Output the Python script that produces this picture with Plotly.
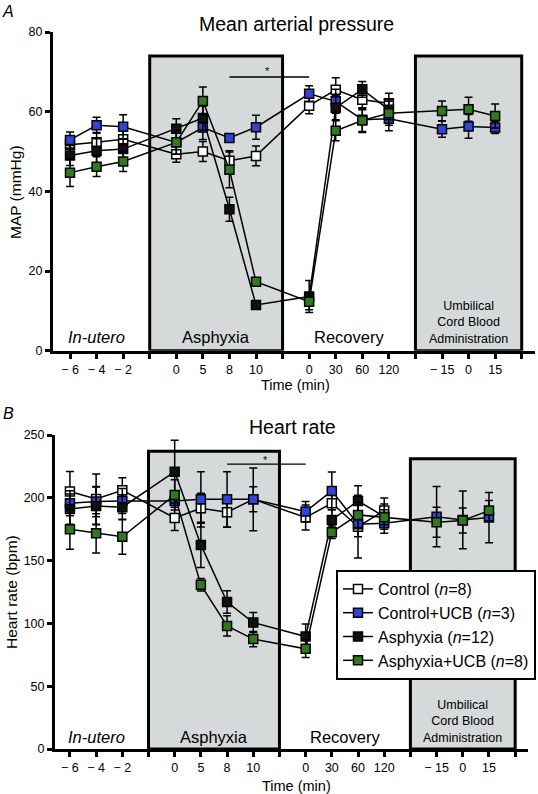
import plotly.graph_objects as go

# ---------------- data ----------------
in_utero_t = ["\u2212 6", "\u2212 4", "\u2212 2"]
asphyxia_t = ["0", "5", "8", "10"]
recovery_t = ["0", "30", "60", "120"]
ucb_t = ["\u2212 15", "0", "15"]

# MAP (mmHg)
ctrl_map = [51.7, 52.3, 53.1, 49.3, 50.0, 47.7, 48.9, 61.5, 65.5, 63.0, 62.1]
ctrl_map_err = [2.0, 2.5, 2.0, 2.0, 2.5, 2.5, 2.5, 2.0, 3.0, 2.5, 2.5]
ctrlucb_map = [52.9, 56.6, 56.2, 52.3, 56.0, 53.4, 56.1, 64.5, 62.6, 58.0, 58.2, 55.6, 56.3, 56.0]
ctrlucb_map_err = [2, 2, 3, 3, 3, 1, 3, 2, 3, 3, 3, 2, 3, 1.5]
asph_map = [49.0, 50.2, 50.6, 55.7, 58.4, 35.5, 11.5, 13.6, 61.0, 65.6, 60.5]
asph_map_err = [2.5, 3, 2.5, 2.5, 3, 3, 1, 4, 3, 2, 2.5]
asphucb_map = [44.7, 46.2, 47.5, 52.3, 62.7, 45.4, 17.3, 12.3, 55.2, 57.8, 59.6, 60.2, 60.6, 58.9]
asphucb_map_err = [3.5, 2.5, 2.5, 3, 3.5, 4.5, 1, 2, 2.5, 3, 3, 2.5, 3, 3]

# Heart rate (bpm)
ctrl_hr = [205, 199, 206, 184, 191.7, 188.5, 198.8, 184.3, 195.7, 177, 189.8]
ctrl_hr_err = [16, 20, 10, 10, 12, 12, 25, 10, 10, 25, 10]
ctrlucb_hr = [195.7, 197, 197.5, 197.5, 198.8, 198.8, 198.8, 189, 205.5, 179, 179.7, 185, 182.4, 184.3]
ctrlucb_hr_err = [10, 12, 10, 5, 22, 22, 10, 8, 15, 10, 8, 24, 23, 20]
asph_hr = [191, 193.5, 192.5, 220.8, 162.5, 117, 100.7, 89.6, 182.4, 197.5, 185]
asph_hr_err = [12, 15, 10, 25, 18, 9, 8, 10, 8, 12, 10]
asphucb_hr = [175, 171.7, 169, 202.3, 130.7, 98, 87.5, 79.8, 172.6, 186.4, 184.5, 180.5, 181.9, 189.8]
asphucb_hr_err = [16, 15.6, 14, 12, 5, 8, 6, 7, 5, 10, 6, 12, 10, 8]

series_names = ["Control (<i>n</i>=8)", "Control+UCB (<i>n</i>=3)",
                "Asphyxia (<i>n</i>=12)", "Asphyxia+UCB (<i>n</i>=8)"]
series_colors = ["#ffffff", "#2f45d6", "#111111", "#2f7a1c"]

# ---------------- positions (slot indices with gaps between sections) ----------------
sections = [in_utero_t, asphyxia_t, recovery_t, ucb_t]
pos = []
tickvals, ticktext = [], []
boundaries = []
k = 0
for sec in sections:
    for lab in sec:
        pos.append(k)
        tickvals.append(k)
        ticktext.append(lab)
        k += 1
    boundaries.append(k)
    k += 1
# boundaries -> [3, 8, 13, 17]
tickvals_all = tickvals + boundaries
ticktext_all = ticktext + [""] * len(boundaries)

sec_pos = []
start = 0
for sec in sections:
    sec_pos.append(pos[start:start + len(sec)])
    start += len(sec)

FONT = "Liberation Sans, Arial, Helvetica, sans-serif"

# page geometry (pixels)
W, H = 538, 794
ML, MR, MT, MB = 53, 3, 32, 45
PW, PH = W - ML - MR, H - MT - MB
px = lambda x: (x - ML) / PW
py = lambda y: (H - MB - y) / PH

fig = go.Figure()

def add_series(vals, errs, name, color, xa, ya, show):
    fig.add_trace(go.Scatter(
        x=pos[:len(vals)], y=vals, mode="lines+markers", name=name,
        line=dict(color="black", width=1.5),
        marker=dict(symbol="square", size=9, color=color,
                    line=dict(color="black", width=1.5)),
        error_y=dict(type="data", array=errs, color="black", thickness=1.5, width=4),
        xaxis=xa, yaxis=ya, showlegend=show, legendgroup=name))

top = [(ctrl_map, ctrl_map_err), (ctrlucb_map, ctrlucb_map_err),
       (asph_map, asph_map_err), (asphucb_map, asphucb_map_err)]
bot = [(ctrl_hr, ctrl_hr_err), (ctrlucb_hr, ctrlucb_hr_err),
       (asph_hr, asph_hr_err), (asphucb_hr, asphucb_hr_err)]
for i, (v, e) in enumerate(top):
    add_series(v, e, series_names[i], series_colors[i], "x", "y", False)
for i, (v, e) in enumerate(bot):
    add_series(v, e, series_names[i], series_colors[i], "x2", "y2", True)

BOX = "#d5d9d9"
shapes = []
box_tops = {"y": (74, 74), "y2": (237, 231)}
for xa, ya in [("x", "y"), ("x2", "y2")]:
    t1, t2 = box_tops[ya]
    shapes.append(dict(type="rect", xref=xa, yref=ya, x0=boundaries[0], x1=boundaries[1],
                       y0=0, y1=t1, fillcolor=BOX, line=dict(color="black", width=3), layer="below"))
    shapes.append(dict(type="rect", xref=xa, yref=ya, x0=boundaries[2], x1=boundaries[3],
                       y0=0, y1=t2, fillcolor=BOX, line=dict(color="black", width=3), layer="below"))
sig_y = {"y": 68.7, "y2": 226.8}
for xa, ya in [("x", "y"), ("x2", "y2")]:
    shapes.append(dict(type="line", xref=xa, yref=ya, x0=sec_pos[1][2], x1=sec_pos[2][0],
                       y0=sig_y[ya], y1=sig_y[ya], line=dict(color="black", width=1.3)))

ann = []
def A(text, x, y, xref, yref, size=14, **kw):
    d = dict(text=text, x=x, y=y, xref=xref, yref=yref, showarrow=False,
             xanchor="center", yanchor="middle",
             font=dict(family=FONT, size=size, color="black"))
    d.update(kw)
    ann.append(d)

mid = lambda p: (p[0] + p[-1]) / 2
for xa, ya, ylab, yumb, ystar in [("x", "y", 3.4, 7.2, 70.3), ("x2", "y2", 9.2, 21.7, 230)]:
    A("<i>In-utero</i>", mid(sec_pos[0]), ylab, xa, ya, 16.5)
    A("Asphyxia", mid(sec_pos[1]), ylab, xa, ya, 16.5)
    A("Recovery", mid(sec_pos[2]), ylab, xa, ya, 16.5)
    A("Umbilical<br>Cord Blood<br>Administration", mid(sec_pos[3]), yumb, xa, ya, 12.5)
    A("*", (sec_pos[1][2] + sec_pos[2][0]) / 2 - 0.05, ystar, xa, ya, 11)

A("Mean arterial pressure", px(296), py(24), "paper", "paper", 19.5)
A("Heart rate", px(292), py(427), "paper", "paper", 19.5)
A("Time (min)", px(295), py(385), "paper", "paper", 14.5)
A("Time (min)", px(296), py(786), "paper", "paper", 14.5)
A("MAP (mmHg)", px(15), py(192), "paper", "paper", 15.5, textangle=-90)
A("Heart rate (bpm)", px(11), py(592), "paper", "paper", 15.5, textangle=-90)
A("<i>A</i>", px(8), py(11), "paper", "paper", 16)
A("<i>B</i>", px(8), py(413), "paper", "paper", 16)

axis_common = dict(showline=True, linewidth=3, linecolor="black", ticks="outside",
                   ticklen=5, tickwidth=3, tickcolor="black", showgrid=False, zeroline=False,
                   automargin=False, mirror=False,
                   tickfont=dict(family=FONT, size=12.5, color="black"))

fig.update_layout(
    template="none",
    width=W, height=H,
    margin=dict(l=ML, r=MR, t=MT, b=MB, pad=0, autoexpand=False),
    paper_bgcolor="white", plot_bgcolor="white",
    showlegend=True,
    legend=dict(x=px(536), y=py(570), xanchor="right", yanchor="top",
                bgcolor="white", bordercolor="black", borderwidth=2,
                font=dict(family=FONT, size=16, color="black"),
                itemwidth=30, tracegroupgap=0),
    xaxis=dict(domain=[0, 1], range=[-0.64, 17.5], anchor="y",
               tickvals=tickvals_all, ticktext=ticktext_all, **axis_common),
    yaxis=dict(domain=[py(350.7), 1.0], range=[0, 80], anchor="x",
               tickvals=[0, 20, 40, 60, 80], **axis_common),
    xaxis2=dict(domain=[px(55), px(528)], range=[-0.57, 17.49], anchor="y2",
                tickvals=tickvals_all, ticktext=ticktext_all, **axis_common),
    yaxis2=dict(domain=[0, py(435)], range=[0, 250], anchor="x2",
                tickvals=[0, 50, 100, 150, 200, 250], **axis_common),
    shapes=shapes, annotations=ann,
    font=dict(family=FONT, color="black"),
)

fig.write_html("out.html", config={"displayModeBar": False},
               post_script="document.body.style.margin='0px';")
